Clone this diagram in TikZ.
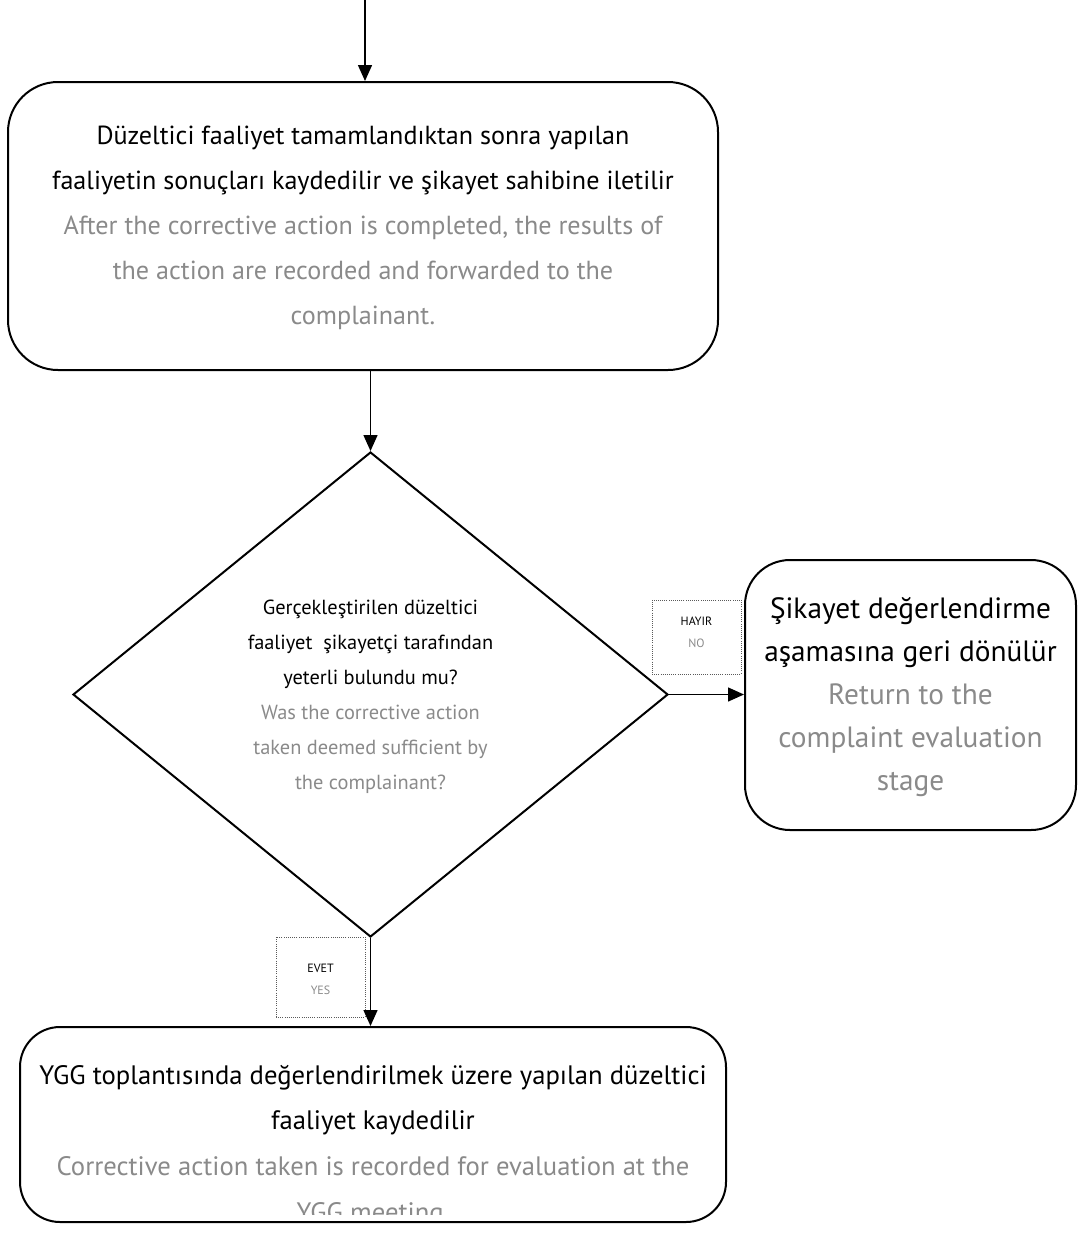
\documentclass[tikz,border=0pt]{standalone}
\usepackage{fontspec}
\setmainfont{PT Sans}
\usetikzlibrary{shapes.geometric,arrows.meta}
\definecolor{txtgrey}{RGB}{138,138,138}
\definecolor{dotgrey}{RGB}{90,90,90}
\begin{document}
\begin{tikzpicture}[x=0.75pt,y=-0.75pt,
  procbox/.style={draw=black,line width=1.5pt,rounded corners=#1,inner sep=0pt},
  decbox/.style={draw=black,line width=1.5pt,diamond,inner sep=0pt},
  lblbox/.style={draw=dotgrey,densely dotted,line width=0.6pt,inner sep=0pt,minimum width=66.75pt},
  bigtxt/.style={align=center,font={\fontsize{19.6pt}{33.75pt}\selectfont}},
  bottxtsty/.style={align=center,font={\fontsize{20pt}{34.25pt}\selectfont}},
  midtxt/.style={align=center,font={\fontsize{15.3pt}{26.25pt}\selectfont}},
  rtxt/.style={align=center,font={\fontsize{22pt}{32.25pt}\selectfont}},
  smalltxt/.style={align=center,font={\fontsize{9pt}{16.5pt}\selectfont}},
  conn/.style={draw=black,line width=1.1pt},
  arr/.style={conn,-{Triangle[length=12pt,width=10.5pt]}},
]
\useasboundingbox (0,0) rectangle (1083,1233);

% boxes
\node[procbox=37.5pt,minimum width=532.5pt,minimum height=216pt] (top) at (363,226) {};
\node[bigtxt] (toptxt) at (363,228) {Düzeltici faaliyet tamamlandıktan sonra yapılan\\faaliyetin sonuçları kaydedilir ve şikayet sahibine iletilir\\\textcolor{txtgrey}{After the corrective action is completed, the results of}\\\textcolor{txtgrey}{the action are recorded and forwarded to the}\\\textcolor{txtgrey}{complainant.}};

\node[decbox,minimum width=446.25pt,minimum height=363.75pt] (dia) at (370.5,694.5) {};
\node[midtxt] (diatxt) at (370.5,696.5) {Gerçekleştirilen düzeltici\\faaliyet\ \ şikayetçi tarafından\\yeterli bulundu mu?\\\textcolor{txtgrey}{Was the corrective action}\\\textcolor{txtgrey}{taken deemed sufficient by}\\\textcolor{txtgrey}{the complainant?}};

\node[procbox=33.75pt,minimum width=248.25pt,minimum height=202.5pt] (right) at (910.5,695) {};
\node[rtxt] (righttxt) at (910.5,697) {Şikayet değerlendirme\\aşamasına geri dönülür\\\textcolor{txtgrey}{Return to the}\\\textcolor{txtgrey}{complaint evaluation}\\\textcolor{txtgrey}{stage}};

\node[procbox=30pt,minimum width=529.5pt,minimum height=146.25pt] (bot) at (373,1124.5) {};
\begin{scope}
  \clip (22,1029) rectangle (724,1214);
  \node[bottxtsty] (bottxt) at (373,1146) {YGG toplantısında değerlendirilmek üzere yapılan düzeltici\\faaliyet kaydedilir\\\textcolor{txtgrey}{Corrective action taken is recorded for evaluation at the}\\\textcolor{txtgrey}{YGG meeting.}};
\end{scope}

% labels
\node[lblbox,minimum height=55.5pt] (no) at (696.5,637) {};
\node[smalltxt] (notxt) at (696.5,632) {HAYIR\\\textcolor{txtgrey}{NO}};
\node[lblbox,minimum height=60pt] (yes) at (320.5,977) {};
\node[smalltxt] (yestxt) at (320.5,979) {EVET\\\textcolor{txtgrey}{YES}};

% connectors
\coordinate (start) at (365,0);
\draw[arr] (start) -- (start |- top.north);
\draw[arr] (top.south -| dia.north) -- (dia.north);
\draw[arr] (dia.east) -- (dia.east -| right.west);
\draw[arr] (dia.south) -- (dia.south |- bot.north);
\end{tikzpicture}
\end{document}
